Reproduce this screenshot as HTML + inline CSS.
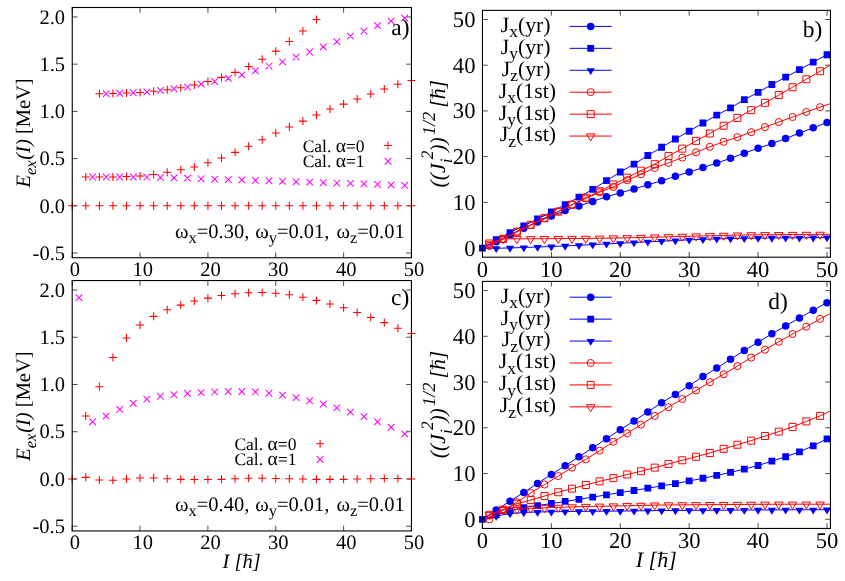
<!DOCTYPE html>
<html><head><meta charset="utf-8"><title>figure</title>
<style>html,body{margin:0;padding:0;background:#fff;width:845px;height:581px;overflow:hidden}body{font-family:"Liberation Serif",serif}svg text{font-family:"Liberation Serif",serif;text-rendering:geometricPrecision}</style></head>
<body>
<svg width="845" height="581" viewBox="0 0 845 581" font-family="'Liberation Serif', serif" fill="#000" style="position:absolute;left:0;top:0;will-change:transform">
<rect width="845" height="581" fill="#fff"/>
<defs>
<clipPath id="cb"><rect x="482.45" y="10.35" width="348" height="246.85"/></clipPath>
<clipPath id="cd"><rect x="482.45" y="281.4" width="348" height="247.05"/></clipPath>
</defs>
<path d="M72.25 257.75v-5.3M72.25 7.5v5.3M140.09 257.75v-5.3M140.09 7.5v5.3M207.93 257.75v-5.3M207.93 7.5v5.3M275.77 257.75v-5.3M275.77 7.5v5.3M343.61 257.75v-5.3M343.61 7.5v5.3M411.45 257.75v-5.3M411.45 7.5v5.3M72.25 253.03h5.3M411.45 253.03h-5.3M72.25 205.81h5.3M411.45 205.81h-5.3M72.25 158.59h5.3M411.45 158.59h-5.3M72.25 111.38h5.3M411.45 111.38h-5.3M72.25 64.16h5.3M411.45 64.16h-5.3M72.25 16.94h5.3M411.45 16.94h-5.3" fill="none" stroke="#000" stroke-width="0.7"/>
<path d="M72.2 530.95v-5.3M72.2 280.55v5.3M140.05 530.95v-5.3M140.05 280.55v5.3M207.9 530.95v-5.3M207.9 280.55v5.3M275.75 530.95v-5.3M275.75 280.55v5.3M343.6 530.95v-5.3M343.6 280.55v5.3M411.45 530.95v-5.3M411.45 280.55v5.3M72.2 526.23h5.3M411.45 526.23h-5.3M72.2 478.98h5.3M411.45 478.98h-5.3M72.2 431.73h5.3M411.45 431.73h-5.3M72.2 384.49h5.3M411.45 384.49h-5.3M72.2 337.24h5.3M411.45 337.24h-5.3M72.2 290h5.3M411.45 290h-5.3" fill="none" stroke="#000" stroke-width="0.7"/>
<path d="M482.45 257.2v-5.3M482.45 10.35v5.3M551.36 257.2v-5.3M551.36 10.35v5.3M620.27 257.2v-5.3M620.27 10.35v5.3M689.18 257.2v-5.3M689.18 10.35v5.3M758.09 257.2v-5.3M758.09 10.35v5.3M827 257.2v-5.3M827 10.35v5.3M482.45 248.06h5.3M830.45 248.06h-5.3M482.45 202.34h5.3M830.45 202.34h-5.3M482.45 156.63h5.3M830.45 156.63h-5.3M482.45 110.92h5.3M830.45 110.92h-5.3M482.45 65.21h5.3M830.45 65.21h-5.3M482.45 19.49h5.3M830.45 19.49h-5.3" fill="none" stroke="#000" stroke-width="0.7"/>
<path d="M482.45 528.45v-5.3M482.45 281.4v5.3M551.36 528.45v-5.3M551.36 281.4v5.3M620.27 528.45v-5.3M620.27 281.4v5.3M689.18 528.45v-5.3M689.18 281.4v5.3M758.09 528.45v-5.3M758.09 281.4v5.3M827 528.45v-5.3M827 281.4v5.3M482.45 519.3h5.3M830.45 519.3h-5.3M482.45 473.55h5.3M830.45 473.55h-5.3M482.45 427.8h5.3M830.45 427.8h-5.3M482.45 382.05h5.3M830.45 382.05h-5.3M482.45 336.3h5.3M830.45 336.3h-5.3M482.45 290.55h5.3M830.45 290.55h-5.3" fill="none" stroke="#000" stroke-width="0.7"/>
<text x="74.85" y="276.45" font-size="20.5" text-anchor="middle" >0</text>
<text x="142.69" y="276.45" font-size="20.5" text-anchor="middle" >10</text>
<text x="210.53" y="276.45" font-size="20.5" text-anchor="middle" >20</text>
<text x="278.37" y="276.45" font-size="20.5" text-anchor="middle" >30</text>
<text x="346.21" y="276.45" font-size="20.5" text-anchor="middle" >40</text>
<text x="414.05" y="276.45" font-size="20.5" text-anchor="middle" >50</text>
<text x="65.05" y="259.73" font-size="20.5" text-anchor="end" >-0.5</text>
<text x="65.05" y="212.51" font-size="20.5" text-anchor="end" >0.0</text>
<text x="65.05" y="165.29" font-size="20.5" text-anchor="end" >0.5</text>
<text x="65.05" y="118.08" font-size="20.5" text-anchor="end" >1.0</text>
<text x="65.05" y="70.86" font-size="20.5" text-anchor="end" >1.5</text>
<text x="65.05" y="23.64" font-size="20.5" text-anchor="end" >2.0</text>
<text x="74.8" y="549.4" font-size="20.5" text-anchor="middle" >0</text>
<text x="142.65" y="549.4" font-size="20.5" text-anchor="middle" >10</text>
<text x="210.5" y="549.4" font-size="20.5" text-anchor="middle" >20</text>
<text x="278.35" y="549.4" font-size="20.5" text-anchor="middle" >30</text>
<text x="346.2" y="549.4" font-size="20.5" text-anchor="middle" >40</text>
<text x="414.05" y="549.4" font-size="20.5" text-anchor="middle" >50</text>
<text x="65" y="532.93" font-size="20.5" text-anchor="end" >-0.5</text>
<text x="65" y="485.68" font-size="20.5" text-anchor="end" >0.0</text>
<text x="65" y="438.43" font-size="20.5" text-anchor="end" >0.5</text>
<text x="65" y="391.19" font-size="20.5" text-anchor="end" >1.0</text>
<text x="65" y="343.94" font-size="20.5" text-anchor="end" >1.5</text>
<text x="65" y="296.7" font-size="20.5" text-anchor="end" >2.0</text>
<text x="482.45" y="277.2" font-size="22.6" text-anchor="middle" >0</text>
<text x="551.36" y="277.2" font-size="22.6" text-anchor="middle" >10</text>
<text x="620.27" y="277.2" font-size="22.6" text-anchor="middle" >20</text>
<text x="689.18" y="277.2" font-size="22.6" text-anchor="middle" >30</text>
<text x="758.09" y="277.2" font-size="22.6" text-anchor="middle" >40</text>
<text x="827" y="277.2" font-size="22.6" text-anchor="middle" >50</text>
<text x="475.45" y="255.61" font-size="22.6" text-anchor="end" >0</text>
<text x="475.45" y="209.89" font-size="22.6" text-anchor="end" >10</text>
<text x="475.45" y="164.18" font-size="22.6" text-anchor="end" >20</text>
<text x="475.45" y="118.47" font-size="22.6" text-anchor="end" >30</text>
<text x="475.45" y="72.76" font-size="22.6" text-anchor="end" >40</text>
<text x="475.45" y="27.04" font-size="22.6" text-anchor="end" >50</text>
<text x="482.45" y="547.85" font-size="22.6" text-anchor="middle" >0</text>
<text x="551.36" y="547.85" font-size="22.6" text-anchor="middle" >10</text>
<text x="620.27" y="547.85" font-size="22.6" text-anchor="middle" >20</text>
<text x="689.18" y="547.85" font-size="22.6" text-anchor="middle" >30</text>
<text x="758.09" y="547.85" font-size="22.6" text-anchor="middle" >40</text>
<text x="827" y="547.85" font-size="22.6" text-anchor="middle" >50</text>
<text x="475.45" y="526.85" font-size="22.6" text-anchor="end" >0</text>
<text x="475.45" y="481.1" font-size="22.6" text-anchor="end" >10</text>
<text x="475.45" y="435.35" font-size="22.6" text-anchor="end" >20</text>
<text x="475.45" y="389.6" font-size="22.6" text-anchor="end" >30</text>
<text x="475.45" y="343.85" font-size="22.6" text-anchor="end" >40</text>
<text x="475.45" y="298.1" font-size="22.6" text-anchor="end" >50</text>
<text transform="translate(30.3 187.6) rotate(-90)" font-size="20.5" text-anchor="start" xml:space="preserve"><tspan font-style="italic">E</tspan><tspan font-style="italic" font-size="16.4" dy="6">ex</tspan><tspan font-style="italic" dy="-6" dx="0.8">(I)</tspan> [MeV]</text>
<text transform="translate(30.3 460.7) rotate(-90)" font-size="20.5" text-anchor="start" xml:space="preserve"><tspan font-style="italic">E</tspan><tspan font-style="italic" font-size="16.4" dy="6">ex</tspan><tspan font-style="italic" dy="-6" dx="0.8">(I)</tspan> [MeV]</text>
<g transform="translate(445.3 187.4) rotate(-90)"><text font-size="21.7" font-style="italic" text-anchor="start" xml:space="preserve">((J<tspan font-size="17.36" dy="6.6">i</tspan><tspan font-size="17.36" dy="-18.6" dx="-0.8">2</tspan><tspan dy="12" dx="-1.2">))</tspan><tspan font-size="18.5" dy="-10.7" dx="2">1/2</tspan><tspan dy="10.7" dx="-1.45"> [h]</tspan></text><path d="M88.73 -13.02H98.28" stroke="#000" stroke-width="0.75" fill="none"/></g>
<g transform="translate(445.3 458.2) rotate(-90)"><text font-size="21.7" font-style="italic" text-anchor="start" xml:space="preserve">((J<tspan font-size="17.36" dy="6.6">i</tspan><tspan font-size="17.36" dy="-18.6" dx="-0.8">2</tspan><tspan dy="12" dx="-1.2">))</tspan><tspan font-size="18.5" dy="-10.7" dx="2">1/2</tspan><tspan dy="10.7" dx="-1.45"> [h]</tspan></text><path d="M88.73 -13.02H98.28" stroke="#000" stroke-width="0.75" fill="none"/></g>
<text x="222.6" y="567.8" font-size="20.5" text-anchor="start" xml:space="preserve" font-style="italic" >I [h]</text>
<path d="M243.14 555.5H252.16" stroke="#000" stroke-width="0.75" fill="none"/>
<text x="635.8" y="566.7" font-size="22" text-anchor="start" xml:space="preserve" font-style="italic" >I [h]</text>
<path d="M657.84 553.5H667.52" stroke="#000" stroke-width="0.75" fill="none"/>
<text x="391.3" y="35.3" font-size="23.5" text-anchor="start" >a)</text>
<text x="391" y="305.3" font-size="23.5" text-anchor="start" >c)</text>
<text x="802.8" y="37" font-size="23.5" text-anchor="start" >b)</text>
<text x="768.3" y="308.5" font-size="23.5" text-anchor="start" >d)</text>
<text x="175" y="237.7" font-size="20.5" xml:space="preserve">&#969;<tspan font-size="16.4" dy="5.7">x</tspan><tspan dy="-5.7">=0.30,</tspan></text>
<text x="255.2" y="237.7" font-size="20.5" xml:space="preserve">&#969;<tspan font-size="16.4" dy="5.7">y</tspan><tspan dy="-5.7">=0.01,</tspan></text>
<text x="336.5" y="237.7" font-size="20.5" xml:space="preserve">&#969;<tspan font-size="16.4" dy="5.7">z</tspan><tspan dy="-5.7">=0.01</tspan></text>
<text x="175" y="510.7" font-size="20.5" xml:space="preserve">&#969;<tspan font-size="16.4" dy="5.7">x</tspan><tspan dy="-5.7">=0.40,</tspan></text>
<text x="255.2" y="510.7" font-size="20.5" xml:space="preserve">&#969;<tspan font-size="16.4" dy="5.7">y</tspan><tspan dy="-5.7">=0.01,</tspan></text>
<text x="336.5" y="510.7" font-size="20.5" xml:space="preserve">&#969;<tspan font-size="16.4" dy="5.7">z</tspan><tspan dy="-5.7">=0.01</tspan></text>
<text x="364.6" y="151.9" font-size="17.5" text-anchor="end" xml:space="preserve" >Cal. <tspan font-size="19.6">&#945;</tspan>=0</text>
<text x="364.6" y="167.2" font-size="17.5" text-anchor="end" xml:space="preserve" >Cal. <tspan font-size="19.6">&#945;</tspan>=1</text>
<path d="M384.07 145.54h8M388.07 141.54v8" fill="none" stroke="#ff0000" stroke-width="1.05"/>
<path d="M384.77 157.94l6.6 6.6M384.77 164.54l6.6 -6.6" fill="none" stroke="#ff00ff" stroke-width="1.05"/>
<text x="296.4" y="449.9" font-size="17.5" text-anchor="end" xml:space="preserve" >Cal. <tspan font-size="19.6">&#945;</tspan>=0</text>
<text x="296.4" y="465.2" font-size="17.5" text-anchor="end" xml:space="preserve" >Cal. <tspan font-size="19.6">&#945;</tspan>=1</text>
<path d="M316.1 443.8h8M320.1 439.8v8" fill="none" stroke="#ff0000" stroke-width="1.05"/>
<path d="M316.8 456.2l6.6 6.6M316.8 462.8l6.6 -6.6" fill="none" stroke="#ff00ff" stroke-width="1.05"/>
<text x="550.6" y="31.8" font-size="21.8" text-anchor="end" xml:space="preserve">J<tspan font-size="17.44" dy="5.6">x</tspan><tspan dy="-5.6">(yr)</tspan></text>
<path d="M569.5 26.4H611.7" stroke="#0000ff" stroke-width="1" fill="none"/>
<path d="M586.95 26.4a3.75 3.75 0 1 0 7.5 0a3.75 3.75 0 1 0 -7.5 0z" fill="#0000ff"/>
<text x="550.6" y="53.73" font-size="21.8" text-anchor="end" xml:space="preserve">J<tspan font-size="17.44" dy="5.6">y</tspan><tspan dy="-5.6">(yr)</tspan></text>
<path d="M569.5 48.33H611.7" stroke="#0000ff" stroke-width="1" fill="none"/>
<path d="M587.3 44.93h6.8v6.8h-6.8z" fill="#0000ff"/>
<text x="550.6" y="75.66" font-size="21.8" text-anchor="end" xml:space="preserve">J<tspan font-size="17.44" dy="5.6">z</tspan><tspan dy="-5.6">(yr)</tspan></text>
<path d="M569.5 70.26H611.7" stroke="#0000ff" stroke-width="1" fill="none"/>
<path d="M590.7 74.96L586.5 68.16h8.4z" fill="#0000ff"/>
<text x="556" y="97.59" font-size="21.8" text-anchor="end" xml:space="preserve">J<tspan font-size="17.44" dy="5.6">x</tspan><tspan dy="-5.6">(1st)</tspan></text>
<path d="M569.5 92.19H611.7" stroke="#ff0000" stroke-width="1" fill="none"/>
<path d="M587.15 92.19a3.55 3.55 0 1 0 7.1 0a3.55 3.55 0 1 0 -7.1 0z" fill="none" stroke="#ff0000" stroke-width="1"/>
<text x="556" y="119.52" font-size="21.8" text-anchor="end" xml:space="preserve">J<tspan font-size="17.44" dy="5.6">y</tspan><tspan dy="-5.6">(1st)</tspan></text>
<path d="M569.5 114.12H611.7" stroke="#ff0000" stroke-width="1" fill="none"/>
<path d="M587.2 110.62h7v7h-7z" fill="none" stroke="#ff0000" stroke-width="1"/>
<text x="556" y="141.45" font-size="21.8" text-anchor="end" xml:space="preserve">J<tspan font-size="17.44" dy="5.6">z</tspan><tspan dy="-5.6">(1st)</tspan></text>
<path d="M569.5 136.05H611.7" stroke="#ff0000" stroke-width="1" fill="none"/>
<path d="M590.7 140.87L586.4 133.9h8.6z" fill="none" stroke="#ff0000" stroke-width="1"/>
<text x="550.6" y="302.6" font-size="21.8" text-anchor="end" xml:space="preserve">J<tspan font-size="17.44" dy="5.6">x</tspan><tspan dy="-5.6">(yr)</tspan></text>
<path d="M569.5 297.2H611.7" stroke="#0000ff" stroke-width="1" fill="none"/>
<path d="M586.95 297.2a3.75 3.75 0 1 0 7.5 0a3.75 3.75 0 1 0 -7.5 0z" fill="#0000ff"/>
<text x="550.6" y="324.53" font-size="21.8" text-anchor="end" xml:space="preserve">J<tspan font-size="17.44" dy="5.6">y</tspan><tspan dy="-5.6">(yr)</tspan></text>
<path d="M569.5 319.13H611.7" stroke="#0000ff" stroke-width="1" fill="none"/>
<path d="M587.3 315.73h6.8v6.8h-6.8z" fill="#0000ff"/>
<text x="550.6" y="346.46" font-size="21.8" text-anchor="end" xml:space="preserve">J<tspan font-size="17.44" dy="5.6">z</tspan><tspan dy="-5.6">(yr)</tspan></text>
<path d="M569.5 341.06H611.7" stroke="#0000ff" stroke-width="1" fill="none"/>
<path d="M590.7 345.76L586.5 338.96h8.4z" fill="#0000ff"/>
<text x="556" y="368.39" font-size="21.8" text-anchor="end" xml:space="preserve">J<tspan font-size="17.44" dy="5.6">x</tspan><tspan dy="-5.6">(1st)</tspan></text>
<path d="M569.5 362.99H611.7" stroke="#ff0000" stroke-width="1" fill="none"/>
<path d="M587.15 362.99a3.55 3.55 0 1 0 7.1 0a3.55 3.55 0 1 0 -7.1 0z" fill="none" stroke="#ff0000" stroke-width="1"/>
<text x="556" y="390.32" font-size="21.8" text-anchor="end" xml:space="preserve">J<tspan font-size="17.44" dy="5.6">y</tspan><tspan dy="-5.6">(1st)</tspan></text>
<path d="M569.5 384.92H611.7" stroke="#ff0000" stroke-width="1" fill="none"/>
<path d="M587.2 381.42h7v7h-7z" fill="none" stroke="#ff0000" stroke-width="1"/>
<text x="556" y="412.25" font-size="21.8" text-anchor="end" xml:space="preserve">J<tspan font-size="17.44" dy="5.6">z</tspan><tspan dy="-5.6">(1st)</tspan></text>
<path d="M569.5 406.85H611.7" stroke="#ff0000" stroke-width="1" fill="none"/>
<path d="M590.7 411.67L586.4 404.7h8.6z" fill="none" stroke="#ff0000" stroke-width="1"/>
<path d="M68.25 205.81h8M72.25 201.81v8M81.82 205.81h8M85.82 201.81v8M95.39 205.81h8M99.39 201.81v8M108.95 205.81h8M112.95 201.81v8M122.52 205.81h8M126.52 201.81v8M136.09 205.81h8M140.09 201.81v8M149.66 205.81h8M153.66 201.81v8M163.23 205.81h8M167.23 201.81v8M176.79 205.81h8M180.79 201.81v8M190.36 205.81h8M194.36 201.81v8M203.93 205.81h8M207.93 201.81v8M217.5 205.81h8M221.5 201.81v8M231.07 205.81h8M235.07 201.81v8M244.63 205.81h8M248.63 201.81v8M258.2 205.81h8M262.2 201.81v8M271.77 205.81h8M275.77 201.81v8M285.34 205.81h8M289.34 201.81v8M298.91 205.81h8M302.91 201.81v8M312.47 205.81h8M316.47 201.81v8M326.04 205.81h8M330.04 201.81v8M339.61 205.81h8M343.61 201.81v8M353.18 205.81h8M357.18 201.81v8M366.75 205.81h8M370.75 201.81v8M380.31 205.81h8M384.31 201.81v8M393.88 205.81h8M397.88 201.81v8M407.45 205.81h8M411.45 201.81v8" fill="none" stroke="#ff0000" stroke-width="1.05"/>
<path d="M81.82 177.01h8M85.82 173.01v8M95.39 177.01h8M99.39 173.01v8M108.95 177.01h8M112.95 173.01v8M122.52 176.54h8M126.52 172.54v8M136.09 176.06h8M140.09 172.06v8M149.66 174.55h8M153.66 170.55v8M163.23 172.29h8M167.23 168.29v8M176.79 169.83h8M180.79 165.83v8M190.36 166.9h8M194.36 162.9v8M203.93 162.84h8M207.93 158.84v8M217.5 157.93h8M221.5 153.93v8M231.07 152.36h8M235.07 148.36v8M244.63 146.32h8M248.63 142.32v8M258.2 139.71h8M262.2 135.71v8M271.77 133h8M275.77 129v8M285.34 127.05h8M289.34 123.05v8M298.91 121.1h8M302.91 117.1v8M312.47 115.06h8M316.47 111.06v8M326.04 109.02h8M330.04 105.02v8M339.61 104.11h8M343.61 100.11v8M353.18 99.01h8M357.18 95.01v8M366.75 94h8M370.75 90v8M380.31 89.09h8M384.31 85.09v8M393.88 84.18h8M397.88 80.18v8M407.45 80.59h8M411.45 76.59v8" fill="none" stroke="#ff0000" stroke-width="1.05"/>
<path d="M95.39 93.72h8M99.39 89.72v8M108.95 93.43h8M112.95 89.43v8M122.52 92.96h8M126.52 88.96v8M136.09 92.4h8M140.09 88.4v8M149.66 91.17h8M153.66 87.17v8M163.23 89.66h8M167.23 85.66v8M176.79 87.67h8M180.79 83.67v8M190.36 84.94h8M194.36 80.94v8M203.93 81.54h8M207.93 77.54v8M217.5 77.38h8M221.5 73.38v8M231.07 72.38h8M235.07 68.38v8M244.63 66.43h8M248.63 62.43v8M258.2 59.16h8M262.2 55.16v8M271.77 51.13h8M275.77 47.13v8M285.34 41.5h8M289.34 37.5v8M298.91 31.01h8M302.91 27.01v8M312.47 19.59h8M316.47 15.59v8" fill="none" stroke="#ff0000" stroke-width="1.05"/>
<path d="M89.3 173.71l6.6 6.6M89.3 180.31l6.6 -6.6M102.87 173.71l6.6 6.6M102.87 180.31l6.6 -6.6M116.44 173.71l6.6 6.6M116.44 180.31l6.6 -6.6M130.01 173.71l6.6 6.6M130.01 180.31l6.6 -6.6M143.57 173.9l6.6 6.6M143.57 180.5l6.6 -6.6M157.14 174.18l6.6 6.6M157.14 180.78l6.6 -6.6M170.71 174.56l6.6 6.6M170.71 181.16l6.6 -6.6M184.28 174.84l6.6 6.6M184.28 181.44l6.6 -6.6M197.85 175.5l6.6 6.6M197.85 182.1l6.6 -6.6M211.41 175.98l6.6 6.6M211.41 182.58l6.6 -6.6M224.98 176.35l6.6 6.6M224.98 182.95l6.6 -6.6M238.55 176.64l6.6 6.6M238.55 183.24l6.6 -6.6M252.12 177.11l6.6 6.6M252.12 183.71l6.6 -6.6M265.69 177.49l6.6 6.6M265.69 184.09l6.6 -6.6M279.25 177.96l6.6 6.6M279.25 184.56l6.6 -6.6M292.82 178.43l6.6 6.6M292.82 185.03l6.6 -6.6M306.39 178.81l6.6 6.6M306.39 185.41l6.6 -6.6M319.96 179.28l6.6 6.6M319.96 185.88l6.6 -6.6M333.53 179.75l6.6 6.6M333.53 186.35l6.6 -6.6M347.09 180.13l6.6 6.6M347.09 186.73l6.6 -6.6M360.66 180.6l6.6 6.6M360.66 187.2l6.6 -6.6M374.23 181.07l6.6 6.6M374.23 187.67l6.6 -6.6M387.8 181.55l6.6 6.6M387.8 188.15l6.6 -6.6M401.37 182.02l6.6 6.6M401.37 188.62l6.6 -6.6" fill="none" stroke="#ff00ff" stroke-width="1.05"/>
<path d="M102.87 90.42l6.6 6.6M102.87 97.02l6.6 -6.6M116.44 89.95l6.6 6.6M116.44 96.55l6.6 -6.6M130.01 89.47l6.6 6.6M130.01 96.07l6.6 -6.6M143.57 88.62l6.6 6.6M143.57 95.22l6.6 -6.6M157.14 87.02l6.6 6.6M157.14 93.62l6.6 -6.6M170.71 85.41l6.6 6.6M170.71 92.01l6.6 -6.6M184.28 83.9l6.6 6.6M184.28 90.5l6.6 -6.6M197.85 80.79l6.6 6.6M197.85 87.39l6.6 -6.6M211.41 78.24l6.6 6.6M211.41 84.84l6.6 -6.6M224.98 74.93l6.6 6.6M224.98 81.53l6.6 -6.6M238.55 71.53l6.6 6.6M238.55 78.13l6.6 -6.6M252.12 67.47l6.6 6.6M252.12 74.07l6.6 -6.6M265.69 62.75l6.6 6.6M265.69 69.35l6.6 -6.6M279.25 58.5l6.6 6.6M279.25 65.1l6.6 -6.6M292.82 53.87l6.6 6.6M292.82 60.47l6.6 -6.6M306.39 48.68l6.6 6.6M306.39 55.28l6.6 -6.6M319.96 43.58l6.6 6.6M319.96 50.18l6.6 -6.6M333.53 38.39l6.6 6.6M333.53 44.99l6.6 -6.6M347.09 32.81l6.6 6.6M347.09 39.41l6.6 -6.6M360.66 27.71l6.6 6.6M360.66 34.31l6.6 -6.6M374.23 22.33l6.6 6.6M374.23 28.93l6.6 -6.6M387.8 17.89l6.6 6.6M387.8 24.49l6.6 -6.6M401.37 14.78l6.6 6.6M401.37 21.38l6.6 -6.6" fill="none" stroke="#ff00ff" stroke-width="1.05"/>
<path d="M68.2 478.98h8M72.2 474.98v8M81.77 477.37h8M85.77 473.37v8M95.34 480.02h8M99.34 476.02v8M108.91 480.3h8M112.91 476.3v8M122.48 479.07h8M126.48 475.07v8M136.05 478.04h8M140.05 474.04v8M149.62 478.04h8M153.62 474.04v8M163.19 478.7h8M167.19 474.7v8M176.76 479.36h8M180.76 475.36v8M190.33 479.55h8M194.33 475.55v8M203.9 479.55h8M207.9 475.55v8M217.47 479.36h8M221.47 475.36v8M231.04 478.7h8M235.04 474.7v8M244.61 478.22h8M248.61 474.22v8M258.18 478.22h8M262.18 474.22v8M271.75 478.51h8M275.75 474.51v8M285.32 478.7h8M289.32 474.7v8M298.89 478.98h8M302.89 474.98v8M312.46 479.36h8M316.46 475.36v8M326.03 479.36h8M330.03 475.36v8M339.6 479.36h8M343.6 475.36v8M353.17 478.98h8M357.17 474.98v8M366.74 478.7h8M370.74 474.7v8M380.31 478.51h8M384.31 474.51v8M393.88 478.51h8M397.88 474.51v8M407.45 478.98h8M411.45 474.98v8" fill="none" stroke="#ff0000" stroke-width="1.05"/>
<path d="M81.77 415.95h8M85.77 411.95v8M95.34 386.76h8M99.34 382.76v8M108.91 357.56h8M112.91 353.56v8M122.48 338h8M126.48 334v8M136.05 325.06h8M140.05 321.06v8M149.62 316.36h8M153.62 312.36v8M163.19 309.84h8M167.19 305.84v8M176.76 305.12h8M180.76 301.12v8M190.33 301.05h8M194.33 297.05v8M203.9 298.13h8M207.9 294.13v8M217.47 295.48h8M221.47 291.48v8M231.04 293.68h8M235.04 289.68v8M244.61 292.74h8M248.61 288.74v8M258.18 292.55h8M262.18 288.55v8M271.75 293.21h8M275.75 289.21v8M285.32 294.82h8M289.32 290.82v8M298.89 297.27h8M302.89 293.27v8M312.46 300.39h8M316.46 296.39v8M326.03 303.98h8M330.03 299.98v8M339.6 307.76h8M343.6 303.76v8M353.17 312.49h8M357.17 308.49v8M366.74 317.4h8M370.74 313.4v8M380.31 322.6h8M384.31 318.6v8M393.88 328.17h8M397.88 324.17v8M407.45 333.56h8M411.45 329.56v8" fill="none" stroke="#ff0000" stroke-width="1.05"/>
<path d="M75.69 294.45l6.6 6.6M75.69 301.05l6.6 -6.6M89.26 418.42l6.6 6.6M89.26 425.02l6.6 -6.6M102.83 412.84l6.6 6.6M102.83 419.44l6.6 -6.6M116.4 406.14l6.6 6.6M116.4 412.74l6.6 -6.6M129.96 400.09l6.6 6.6M129.96 406.69l6.6 -6.6M143.53 395.84l6.6 6.6M143.53 402.44l6.6 -6.6M157.1 392.91l6.6 6.6M157.1 399.51l6.6 -6.6M170.67 391.39l6.6 6.6M170.67 397.99l6.6 -6.6M184.25 390.17l6.6 6.6M184.25 396.77l6.6 -6.6M197.81 389.32l6.6 6.6M197.81 395.92l6.6 -6.6M211.38 388.65l6.6 6.6M211.38 395.25l6.6 -6.6M224.95 388.18l6.6 6.6M224.95 394.78l6.6 -6.6M238.52 388.18l6.6 6.6M238.52 394.78l6.6 -6.6M252.1 388.65l6.6 6.6M252.1 395.25l6.6 -6.6M265.66 389.98l6.6 6.6M265.66 396.58l6.6 -6.6M279.24 391.77l6.6 6.6M279.24 398.37l6.6 -6.6M292.81 394.32l6.6 6.6M292.81 400.92l6.6 -6.6M306.38 397.44l6.6 6.6M306.38 404.04l6.6 -6.6M319.94 400.84l6.6 6.6M319.94 407.44l6.6 -6.6M333.51 404.62l6.6 6.6M333.51 411.22l6.6 -6.6M347.08 408.78l6.6 6.6M347.08 415.38l6.6 -6.6M360.65 413.32l6.6 6.6M360.65 419.92l6.6 -6.6M374.22 418.42l6.6 6.6M374.22 425.02l6.6 -6.6M387.79 423.99l6.6 6.6M387.79 430.59l6.6 -6.6M401.36 430.51l6.6 6.6M401.36 437.11l6.6 -6.6" fill="none" stroke="#ff00ff" stroke-width="1.05"/>
<path d="M482.45 248.06L496.23 241.63L510.01 234.89L523.8 228.16L537.58 221.88L551.36 215.88L565.14 210.62L578.93 206.08L592.71 201.41L606.49 196.74L620.27 192.89L634.05 188.95L647.84 184.83L661.62 180.71L675.4 176.35L689.18 172L702.96 167.61L716.75 163.12L730.53 158.26L744.31 153.22L758.09 148.18L771.88 143.6L785.66 138.57L799.44 133.07L813.22 127.8L827 122.53" fill="none" stroke="#0000ff" stroke-width="1" clip-path="url(#cb)"/>
<path d="M492.48 241.63a3.75 3.75 0 1 0 7.5 0a3.75 3.75 0 1 0 -7.5 0zM506.26 234.89a3.75 3.75 0 1 0 7.5 0a3.75 3.75 0 1 0 -7.5 0zM520.05 228.16a3.75 3.75 0 1 0 7.5 0a3.75 3.75 0 1 0 -7.5 0zM533.83 221.88a3.75 3.75 0 1 0 7.5 0a3.75 3.75 0 1 0 -7.5 0zM547.61 215.88a3.75 3.75 0 1 0 7.5 0a3.75 3.75 0 1 0 -7.5 0zM561.39 210.62a3.75 3.75 0 1 0 7.5 0a3.75 3.75 0 1 0 -7.5 0zM575.18 206.08a3.75 3.75 0 1 0 7.5 0a3.75 3.75 0 1 0 -7.5 0zM588.96 201.41a3.75 3.75 0 1 0 7.5 0a3.75 3.75 0 1 0 -7.5 0zM602.74 196.74a3.75 3.75 0 1 0 7.5 0a3.75 3.75 0 1 0 -7.5 0zM616.52 192.89a3.75 3.75 0 1 0 7.5 0a3.75 3.75 0 1 0 -7.5 0zM630.3 188.95a3.75 3.75 0 1 0 7.5 0a3.75 3.75 0 1 0 -7.5 0zM644.09 184.83a3.75 3.75 0 1 0 7.5 0a3.75 3.75 0 1 0 -7.5 0zM657.87 180.71a3.75 3.75 0 1 0 7.5 0a3.75 3.75 0 1 0 -7.5 0zM671.65 176.35a3.75 3.75 0 1 0 7.5 0a3.75 3.75 0 1 0 -7.5 0zM685.43 172a3.75 3.75 0 1 0 7.5 0a3.75 3.75 0 1 0 -7.5 0zM699.21 167.61a3.75 3.75 0 1 0 7.5 0a3.75 3.75 0 1 0 -7.5 0zM713 163.12a3.75 3.75 0 1 0 7.5 0a3.75 3.75 0 1 0 -7.5 0zM726.78 158.26a3.75 3.75 0 1 0 7.5 0a3.75 3.75 0 1 0 -7.5 0zM740.56 153.22a3.75 3.75 0 1 0 7.5 0a3.75 3.75 0 1 0 -7.5 0zM754.34 148.18a3.75 3.75 0 1 0 7.5 0a3.75 3.75 0 1 0 -7.5 0zM768.13 143.6a3.75 3.75 0 1 0 7.5 0a3.75 3.75 0 1 0 -7.5 0zM781.91 138.57a3.75 3.75 0 1 0 7.5 0a3.75 3.75 0 1 0 -7.5 0zM795.69 133.07a3.75 3.75 0 1 0 7.5 0a3.75 3.75 0 1 0 -7.5 0zM809.47 127.8a3.75 3.75 0 1 0 7.5 0a3.75 3.75 0 1 0 -7.5 0zM823.25 122.53a3.75 3.75 0 1 0 7.5 0a3.75 3.75 0 1 0 -7.5 0z" fill="#0000ff" stroke="none"/>
<path d="M482.45 248.06L496.23 239.66L510.01 232.69L523.8 225.82L537.58 219L551.36 211.99L565.14 204.66L578.93 197.2L592.71 189.41L606.49 180.71L620.27 172L634.05 164.22L647.84 155.51L661.62 147.27L675.4 139.02L689.18 131.24L702.96 122.99L716.75 115.21L730.53 107.88L744.31 99.63L758.09 92.3L771.88 84.52L785.66 77.19L799.44 69.63L813.22 62.07L827 54.74" fill="none" stroke="#0000ff" stroke-width="1" clip-path="url(#cb)"/>
<path d="M479.05 244.66h6.8v6.8h-6.8zM492.83 236.26h6.8v6.8h-6.8zM506.61 229.29h6.8v6.8h-6.8zM520.4 222.42h6.8v6.8h-6.8zM534.18 215.6h6.8v6.8h-6.8zM547.96 208.59h6.8v6.8h-6.8zM561.74 201.26h6.8v6.8h-6.8zM575.53 193.8h6.8v6.8h-6.8zM589.31 186.01h6.8v6.8h-6.8zM603.09 177.31h6.8v6.8h-6.8zM616.87 168.6h6.8v6.8h-6.8zM630.65 160.82h6.8v6.8h-6.8zM644.44 152.11h6.8v6.8h-6.8zM658.22 143.87h6.8v6.8h-6.8zM672 135.62h6.8v6.8h-6.8zM685.78 127.84h6.8v6.8h-6.8zM699.56 119.59h6.8v6.8h-6.8zM713.35 111.81h6.8v6.8h-6.8zM727.13 104.48h6.8v6.8h-6.8zM740.91 96.23h6.8v6.8h-6.8zM754.69 88.9h6.8v6.8h-6.8zM768.48 81.12h6.8v6.8h-6.8zM782.26 73.79h6.8v6.8h-6.8zM796.04 66.23h6.8v6.8h-6.8zM809.82 58.67h6.8v6.8h-6.8zM823.6 51.34h6.8v6.8h-6.8z" fill="#0000ff" stroke="none"/>
<path d="M482.45 248.06L496.23 248.27L510.01 247.95L523.8 247.49L537.58 247.03L551.36 246.53L565.14 245.93L578.93 245.29L592.71 244.6L606.49 243.92L620.27 243.23L634.05 242.54L647.84 241.85L661.62 241.17L675.4 240.48L689.18 239.84L702.96 239.34L716.75 238.88L730.53 238.51L744.31 238.24L758.09 238.05L771.88 237.96L785.66 237.87L799.44 237.78L813.22 237.69L827 237.59" fill="none" stroke="#0000ff" stroke-width="1" clip-path="url(#cb)"/>
<path d="M496.23 252.97L492.03 246.17h8.4zM510.01 252.65L505.81 245.85h8.4zM523.8 252.19L519.6 245.39h8.4zM537.58 251.73L533.38 244.93h8.4zM551.36 251.23L547.16 244.43h8.4zM565.14 250.64L560.94 243.83h8.4zM578.93 249.99L574.73 243.19h8.4zM592.71 249.31L588.51 242.5h8.4zM606.49 248.62L602.29 241.82h8.4zM620.27 247.93L616.07 241.13h8.4zM634.05 247.25L629.85 240.44h8.4zM647.84 246.56L643.64 239.75h8.4zM661.62 245.87L657.42 239.07h8.4zM675.4 245.18L671.2 238.38h8.4zM689.18 244.54L684.98 237.74h8.4zM702.96 244.04L698.76 237.24h8.4zM716.75 243.58L712.55 236.78h8.4zM730.53 243.21L726.33 236.41h8.4zM744.31 242.94L740.11 236.14h8.4zM758.09 242.76L753.89 235.95h8.4zM771.88 242.67L767.68 235.86h8.4zM785.66 242.57L781.46 235.77h8.4zM799.44 242.48L795.24 235.68h8.4zM813.22 242.39L809.02 235.59h8.4zM827 242.3L822.8 235.49h8.4z" fill="#0000ff" stroke="none"/>
<path d="M489.34 246.07L503.12 238.97L516.91 231.78L530.69 225L544.47 218.08L558.25 211.53L572.03 204.75L585.82 198.57L599.6 192.16L613.38 186.98L627.16 180.25L640.95 174.29L654.73 167.88L668.51 162.84L682.29 157.57L696.07 152.31L709.86 146.81L723.64 141.77L737.42 137.19L751.2 132.15L764.98 127.11L778.77 122.08L792.55 117.04L806.33 112L820.11 107.19L833.9 102.38" fill="none" stroke="#ff0000" stroke-width="1" clip-path="url(#cb)"/>
<path d="M485.79 246.07a3.55 3.55 0 1 0 7.1 0a3.55 3.55 0 1 0 -7.1 0zM499.57 238.97a3.55 3.55 0 1 0 7.1 0a3.55 3.55 0 1 0 -7.1 0zM513.36 231.78a3.55 3.55 0 1 0 7.1 0a3.55 3.55 0 1 0 -7.1 0zM527.14 225a3.55 3.55 0 1 0 7.1 0a3.55 3.55 0 1 0 -7.1 0zM540.92 218.08a3.55 3.55 0 1 0 7.1 0a3.55 3.55 0 1 0 -7.1 0zM554.7 211.53a3.55 3.55 0 1 0 7.1 0a3.55 3.55 0 1 0 -7.1 0zM568.48 204.75a3.55 3.55 0 1 0 7.1 0a3.55 3.55 0 1 0 -7.1 0zM582.27 198.57a3.55 3.55 0 1 0 7.1 0a3.55 3.55 0 1 0 -7.1 0zM596.05 192.16a3.55 3.55 0 1 0 7.1 0a3.55 3.55 0 1 0 -7.1 0zM609.83 186.98a3.55 3.55 0 1 0 7.1 0a3.55 3.55 0 1 0 -7.1 0zM623.61 180.25a3.55 3.55 0 1 0 7.1 0a3.55 3.55 0 1 0 -7.1 0zM637.4 174.29a3.55 3.55 0 1 0 7.1 0a3.55 3.55 0 1 0 -7.1 0zM651.18 167.88a3.55 3.55 0 1 0 7.1 0a3.55 3.55 0 1 0 -7.1 0zM664.96 162.84a3.55 3.55 0 1 0 7.1 0a3.55 3.55 0 1 0 -7.1 0zM678.74 157.57a3.55 3.55 0 1 0 7.1 0a3.55 3.55 0 1 0 -7.1 0zM692.52 152.31a3.55 3.55 0 1 0 7.1 0a3.55 3.55 0 1 0 -7.1 0zM706.31 146.81a3.55 3.55 0 1 0 7.1 0a3.55 3.55 0 1 0 -7.1 0zM720.09 141.77a3.55 3.55 0 1 0 7.1 0a3.55 3.55 0 1 0 -7.1 0zM733.87 137.19a3.55 3.55 0 1 0 7.1 0a3.55 3.55 0 1 0 -7.1 0zM747.65 132.15a3.55 3.55 0 1 0 7.1 0a3.55 3.55 0 1 0 -7.1 0zM761.43 127.11a3.55 3.55 0 1 0 7.1 0a3.55 3.55 0 1 0 -7.1 0zM775.22 122.08a3.55 3.55 0 1 0 7.1 0a3.55 3.55 0 1 0 -7.1 0zM789 117.04a3.55 3.55 0 1 0 7.1 0a3.55 3.55 0 1 0 -7.1 0zM802.78 112a3.55 3.55 0 1 0 7.1 0a3.55 3.55 0 1 0 -7.1 0zM816.56 107.19a3.55 3.55 0 1 0 7.1 0a3.55 3.55 0 1 0 -7.1 0z" fill="none" stroke="#ff0000" stroke-width="1"/>
<path d="M489.34 243.46L503.12 238.88L516.91 231.73L530.69 224.86L544.47 218.13L558.25 211.58L572.03 204.71L585.82 197.65L599.6 191.24L613.38 184.37L627.16 177.68L640.95 170.63L654.73 164.22L668.51 155.97L682.29 148.64L696.07 140.86L709.86 133.53L723.64 125.74L737.42 117.95L751.2 110.17L764.98 102.84L778.77 95.05L792.55 87.26L806.33 79.25L820.11 71.23L833.9 62.99" fill="none" stroke="#ff0000" stroke-width="1" clip-path="url(#cb)"/>
<path d="M485.84 239.96h7v7h-7zM499.62 235.38h7v7h-7zM513.41 228.23h7v7h-7zM527.19 221.36h7v7h-7zM540.97 214.63h7v7h-7zM554.75 208.08h7v7h-7zM568.53 201.21h7v7h-7zM582.32 194.15h7v7h-7zM596.1 187.74h7v7h-7zM609.88 180.87h7v7h-7zM623.66 174.18h7v7h-7zM637.45 167.13h7v7h-7zM651.23 160.72h7v7h-7zM665.01 152.47h7v7h-7zM678.79 145.14h7v7h-7zM692.57 137.36h7v7h-7zM706.36 130.03h7v7h-7zM720.14 122.24h7v7h-7zM733.92 114.45h7v7h-7zM747.7 106.67h7v7h-7zM761.48 99.34h7v7h-7zM775.27 91.55h7v7h-7zM789.05 83.76h7v7h-7zM802.83 75.75h7v7h-7zM816.61 67.73h7v7h-7z" fill="none" stroke="#ff0000" stroke-width="1"/>
<path d="M489.34 243.92L503.12 238.88L516.91 238.79L530.69 238.79L544.47 238.69L558.25 238.6L572.03 238.51L585.82 238.42L599.6 238.24L613.38 238.05L627.16 237.82L640.95 237.5L654.73 237.18L668.51 236.82L682.29 236.45L696.07 236.13L709.86 235.76L723.64 235.44L737.42 235.12L751.2 234.89L764.98 234.75L778.77 234.62L792.55 234.53L806.33 234.43L820.11 234.39L833.9 234.34" fill="none" stroke="#ff0000" stroke-width="1" clip-path="url(#cb)"/>
<path d="M489.34 248.73L485.04 241.77h8.6zM503.12 243.69L498.82 236.73h8.6zM516.91 243.6L512.61 236.64h8.6zM530.69 243.6L526.39 236.64h8.6zM544.47 243.51L540.17 236.54h8.6zM558.25 243.42L553.95 236.45h8.6zM572.03 243.33L567.73 236.36h8.6zM585.82 243.24L581.52 236.27h8.6zM599.6 243.05L595.3 236.09h8.6zM613.38 242.87L609.08 235.9h8.6zM627.16 242.64L622.86 235.67h8.6zM640.95 242.32L636.65 235.35h8.6zM654.73 242L650.43 235.03h8.6zM668.51 241.63L664.21 234.67h8.6zM682.29 241.27L677.99 234.3h8.6zM696.07 240.95L691.77 233.98h8.6zM709.86 240.58L705.56 233.61h8.6zM723.64 240.26L719.34 233.29h8.6zM737.42 239.94L733.12 232.97h8.6zM751.2 239.71L746.9 232.74h8.6zM764.98 239.57L760.68 232.6h8.6zM778.77 239.43L774.47 232.47h8.6zM792.55 239.34L788.25 232.38h8.6zM806.33 239.25L802.03 232.28h8.6zM820.11 239.2L815.81 232.24h8.6z" fill="none" stroke="#ff0000" stroke-width="1"/>
<path d="M482.45 519.3L496.23 510.01L510.01 501.23L523.8 492.4L537.58 483.39L551.36 474.47L565.14 465.77L578.93 456.76L592.71 447.79L606.49 438.78L620.27 429.63L634.05 420.94L647.84 411.92L661.62 402.82L675.4 394.4L689.18 385.71L702.96 376.56L716.75 368.1L730.53 359.17L744.31 350.48L758.09 342.25L771.88 333.78L785.66 325.91L799.44 318L813.22 310.22L827 302.63" fill="none" stroke="#0000ff" stroke-width="1" clip-path="url(#cd)"/>
<path d="M492.48 510.01a3.75 3.75 0 1 0 7.5 0a3.75 3.75 0 1 0 -7.5 0zM506.26 501.23a3.75 3.75 0 1 0 7.5 0a3.75 3.75 0 1 0 -7.5 0zM520.05 492.4a3.75 3.75 0 1 0 7.5 0a3.75 3.75 0 1 0 -7.5 0zM533.83 483.39a3.75 3.75 0 1 0 7.5 0a3.75 3.75 0 1 0 -7.5 0zM547.61 474.47a3.75 3.75 0 1 0 7.5 0a3.75 3.75 0 1 0 -7.5 0zM561.39 465.77a3.75 3.75 0 1 0 7.5 0a3.75 3.75 0 1 0 -7.5 0zM575.18 456.76a3.75 3.75 0 1 0 7.5 0a3.75 3.75 0 1 0 -7.5 0zM588.96 447.79a3.75 3.75 0 1 0 7.5 0a3.75 3.75 0 1 0 -7.5 0zM602.74 438.78a3.75 3.75 0 1 0 7.5 0a3.75 3.75 0 1 0 -7.5 0zM616.52 429.63a3.75 3.75 0 1 0 7.5 0a3.75 3.75 0 1 0 -7.5 0zM630.3 420.94a3.75 3.75 0 1 0 7.5 0a3.75 3.75 0 1 0 -7.5 0zM644.09 411.92a3.75 3.75 0 1 0 7.5 0a3.75 3.75 0 1 0 -7.5 0zM657.87 402.82a3.75 3.75 0 1 0 7.5 0a3.75 3.75 0 1 0 -7.5 0zM671.65 394.4a3.75 3.75 0 1 0 7.5 0a3.75 3.75 0 1 0 -7.5 0zM685.43 385.71a3.75 3.75 0 1 0 7.5 0a3.75 3.75 0 1 0 -7.5 0zM699.21 376.56a3.75 3.75 0 1 0 7.5 0a3.75 3.75 0 1 0 -7.5 0zM713 368.1a3.75 3.75 0 1 0 7.5 0a3.75 3.75 0 1 0 -7.5 0zM726.78 359.17a3.75 3.75 0 1 0 7.5 0a3.75 3.75 0 1 0 -7.5 0zM740.56 350.48a3.75 3.75 0 1 0 7.5 0a3.75 3.75 0 1 0 -7.5 0zM754.34 342.25a3.75 3.75 0 1 0 7.5 0a3.75 3.75 0 1 0 -7.5 0zM768.13 333.78a3.75 3.75 0 1 0 7.5 0a3.75 3.75 0 1 0 -7.5 0zM781.91 325.91a3.75 3.75 0 1 0 7.5 0a3.75 3.75 0 1 0 -7.5 0zM795.69 318a3.75 3.75 0 1 0 7.5 0a3.75 3.75 0 1 0 -7.5 0zM809.47 310.22a3.75 3.75 0 1 0 7.5 0a3.75 3.75 0 1 0 -7.5 0zM823.25 302.63a3.75 3.75 0 1 0 7.5 0a3.75 3.75 0 1 0 -7.5 0z" fill="#0000ff" stroke="none"/>
<path d="M482.45 519.3L496.23 514.73L510.01 510.61L523.8 507.68L537.58 505.58L551.36 503.52L565.14 501.46L578.93 499.31L592.71 497.07L606.49 494.87L620.27 492.54L634.05 490.48L647.84 488.19L661.62 485.9L675.4 483.62L689.18 480.96L702.96 478.26L716.75 475.38L730.53 472.41L744.31 469.07L758.09 465.5L771.88 461.2L785.66 456.76L799.44 451.82L813.22 445.78L827 438.78" fill="none" stroke="#0000ff" stroke-width="1" clip-path="url(#cd)"/>
<path d="M479.05 515.9h6.8v6.8h-6.8zM492.83 511.33h6.8v6.8h-6.8zM506.61 507.21h6.8v6.8h-6.8zM520.4 504.28h6.8v6.8h-6.8zM534.18 502.18h6.8v6.8h-6.8zM547.96 500.12h6.8v6.8h-6.8zM561.74 498.06h6.8v6.8h-6.8zM575.53 495.91h6.8v6.8h-6.8zM589.31 493.67h6.8v6.8h-6.8zM603.09 491.47h6.8v6.8h-6.8zM616.87 489.14h6.8v6.8h-6.8zM630.65 487.08h6.8v6.8h-6.8zM644.44 484.79h6.8v6.8h-6.8zM658.22 482.5h6.8v6.8h-6.8zM672 480.22h6.8v6.8h-6.8zM685.78 477.56h6.8v6.8h-6.8zM699.56 474.86h6.8v6.8h-6.8zM713.35 471.98h6.8v6.8h-6.8zM727.13 469.01h6.8v6.8h-6.8zM740.91 465.67h6.8v6.8h-6.8zM754.69 462.1h6.8v6.8h-6.8zM768.48 457.8h6.8v6.8h-6.8zM782.26 453.36h6.8v6.8h-6.8zM796.04 448.42h6.8v6.8h-6.8zM809.82 442.38h6.8v6.8h-6.8zM823.6 435.38h6.8v6.8h-6.8z" fill="#0000ff" stroke="none"/>
<path d="M482.45 519.3L496.23 515.96L510.01 513.58L523.8 512.44L537.58 511.98L551.36 511.75L565.14 511.52L578.93 511.39L592.71 511.29L606.49 511.16L620.27 511.07L634.05 510.88L647.84 510.7L661.62 510.56L675.4 510.47L689.18 510.38L702.96 510.29L716.75 510.2L730.53 510.15L744.31 510.06L758.09 509.97L771.88 509.92L785.66 509.83L799.44 509.78L813.22 509.74L827 509.69" fill="none" stroke="#0000ff" stroke-width="1" clip-path="url(#cd)"/>
<path d="M496.23 520.66L492.03 513.86h8.4zM510.01 518.29L505.81 511.48h8.4zM523.8 517.14L519.6 510.34h8.4zM537.58 516.68L533.38 509.88h8.4zM551.36 516.46L547.16 509.65h8.4zM565.14 516.23L560.94 509.42h8.4zM578.93 516.09L574.73 509.29h8.4zM592.71 516L588.51 509.19h8.4zM606.49 515.86L602.29 509.06h8.4zM620.27 515.77L616.07 508.97h8.4zM634.05 515.59L629.85 508.78h8.4zM647.84 515.4L643.64 508.6h8.4zM661.62 515.27L657.42 508.46h8.4zM675.4 515.17L671.2 508.37h8.4zM689.18 515.08L684.98 508.28h8.4zM702.96 514.99L698.76 508.19h8.4zM716.75 514.9L712.55 508.1h8.4zM730.53 514.85L726.33 508.05h8.4zM744.31 514.76L740.11 507.96h8.4zM758.09 514.67L753.89 507.87h8.4zM771.88 514.63L767.68 507.82h8.4zM785.66 514.53L781.46 507.73h8.4zM799.44 514.49L795.24 507.68h8.4zM813.22 514.44L809.02 507.64h8.4zM827 514.4L822.8 507.59h8.4z" fill="#0000ff" stroke="none"/>
<path d="M489.34 519.3L503.12 510.15L516.91 502.14L530.69 492.99L544.47 484.53L558.25 476.07L572.03 467.6L585.82 459.37L599.6 450.68L613.38 441.75L627.16 433.29L640.95 424.6L654.73 415.9L668.51 407.21L682.29 398.98L696.07 390.47L709.86 382.19L723.64 374.27L737.42 366.04L751.2 357.53L764.98 349.7L778.77 341.79L792.55 334.01L806.33 326.69L820.11 318.91L833.9 311.6" fill="none" stroke="#ff0000" stroke-width="1" clip-path="url(#cd)"/>
<path d="M485.79 519.3a3.55 3.55 0 1 0 7.1 0a3.55 3.55 0 1 0 -7.1 0zM499.57 510.15a3.55 3.55 0 1 0 7.1 0a3.55 3.55 0 1 0 -7.1 0zM513.36 502.14a3.55 3.55 0 1 0 7.1 0a3.55 3.55 0 1 0 -7.1 0zM527.14 492.99a3.55 3.55 0 1 0 7.1 0a3.55 3.55 0 1 0 -7.1 0zM540.92 484.53a3.55 3.55 0 1 0 7.1 0a3.55 3.55 0 1 0 -7.1 0zM554.7 476.07a3.55 3.55 0 1 0 7.1 0a3.55 3.55 0 1 0 -7.1 0zM568.48 467.6a3.55 3.55 0 1 0 7.1 0a3.55 3.55 0 1 0 -7.1 0zM582.27 459.37a3.55 3.55 0 1 0 7.1 0a3.55 3.55 0 1 0 -7.1 0zM596.05 450.68a3.55 3.55 0 1 0 7.1 0a3.55 3.55 0 1 0 -7.1 0zM609.83 441.75a3.55 3.55 0 1 0 7.1 0a3.55 3.55 0 1 0 -7.1 0zM623.61 433.29a3.55 3.55 0 1 0 7.1 0a3.55 3.55 0 1 0 -7.1 0zM637.4 424.6a3.55 3.55 0 1 0 7.1 0a3.55 3.55 0 1 0 -7.1 0zM651.18 415.9a3.55 3.55 0 1 0 7.1 0a3.55 3.55 0 1 0 -7.1 0zM664.96 407.21a3.55 3.55 0 1 0 7.1 0a3.55 3.55 0 1 0 -7.1 0zM678.74 398.98a3.55 3.55 0 1 0 7.1 0a3.55 3.55 0 1 0 -7.1 0zM692.52 390.47a3.55 3.55 0 1 0 7.1 0a3.55 3.55 0 1 0 -7.1 0zM706.31 382.19a3.55 3.55 0 1 0 7.1 0a3.55 3.55 0 1 0 -7.1 0zM720.09 374.27a3.55 3.55 0 1 0 7.1 0a3.55 3.55 0 1 0 -7.1 0zM733.87 366.04a3.55 3.55 0 1 0 7.1 0a3.55 3.55 0 1 0 -7.1 0zM747.65 357.53a3.55 3.55 0 1 0 7.1 0a3.55 3.55 0 1 0 -7.1 0zM761.43 349.7a3.55 3.55 0 1 0 7.1 0a3.55 3.55 0 1 0 -7.1 0zM775.22 341.79a3.55 3.55 0 1 0 7.1 0a3.55 3.55 0 1 0 -7.1 0zM789 334.01a3.55 3.55 0 1 0 7.1 0a3.55 3.55 0 1 0 -7.1 0zM802.78 326.69a3.55 3.55 0 1 0 7.1 0a3.55 3.55 0 1 0 -7.1 0zM816.56 318.91a3.55 3.55 0 1 0 7.1 0a3.55 3.55 0 1 0 -7.1 0z" fill="none" stroke="#ff0000" stroke-width="1"/>
<path d="M489.34 514.86L503.12 509.69L516.91 503.75L530.69 500.09L544.47 496.06L558.25 492.22L572.03 488.65L585.82 484.99L599.6 481.33L613.38 478.13L627.16 474.47L640.95 471.26L654.73 467.6L668.51 463.94L682.29 460.28L696.07 456.76L709.86 452.96L723.64 448.85L737.42 444.73L751.2 440.61L764.98 436.04L778.77 431.64L792.55 426.88L806.33 421.4L820.11 415.9L833.9 409.5" fill="none" stroke="#ff0000" stroke-width="1" clip-path="url(#cd)"/>
<path d="M485.84 511.36h7v7h-7zM499.62 506.19h7v7h-7zM513.41 500.25h7v7h-7zM527.19 496.59h7v7h-7zM540.97 492.56h7v7h-7zM554.75 488.72h7v7h-7zM568.53 485.15h7v7h-7zM582.32 481.49h7v7h-7zM596.1 477.83h7v7h-7zM609.88 474.63h7v7h-7zM623.66 470.97h7v7h-7zM637.45 467.76h7v7h-7zM651.23 464.1h7v7h-7zM665.01 460.44h7v7h-7zM678.79 456.78h7v7h-7zM692.57 453.26h7v7h-7zM706.36 449.46h7v7h-7zM720.14 445.35h7v7h-7zM733.92 441.23h7v7h-7zM747.7 437.11h7v7h-7zM761.48 432.54h7v7h-7zM775.27 428.14h7v7h-7zM789.05 423.38h7v7h-7zM802.83 417.9h7v7h-7zM816.61 412.4h7v7h-7z" fill="none" stroke="#ff0000" stroke-width="1"/>
<path d="M489.34 514.73L503.12 509.69L516.91 509.24L530.69 508.32L544.47 507.86L558.25 507.41L572.03 506.95L585.82 506.49L599.6 506.26L613.38 506.03L627.16 505.71L640.95 505.44L654.73 505.12L668.51 504.98L682.29 504.84L696.07 504.75L709.86 504.66L723.64 504.57L737.42 504.48L751.2 504.39L764.98 504.29L778.77 504.25L792.55 504.2L806.33 504.2L820.11 504.2L833.9 504.2" fill="none" stroke="#ff0000" stroke-width="1" clip-path="url(#cd)"/>
<path d="M489.34 519.54L485.04 512.58h8.6zM503.12 514.51L498.82 507.54h8.6zM516.91 514.05L512.61 507.09h8.6zM530.69 513.14L526.39 506.17h8.6zM544.47 512.68L540.17 505.71h8.6zM558.25 512.22L553.95 505.26h8.6zM572.03 511.76L567.73 504.8h8.6zM585.82 511.31L581.52 504.34h8.6zM599.6 511.08L595.3 504.11h8.6zM613.38 510.85L609.08 503.88h8.6zM627.16 510.53L622.86 503.56h8.6zM640.95 510.25L636.65 503.29h8.6zM654.73 509.93L650.43 502.97h8.6zM668.51 509.8L664.21 502.83h8.6zM682.29 509.66L677.99 502.69h8.6zM696.07 509.57L691.77 502.6h8.6zM709.86 509.48L705.56 502.51h8.6zM723.64 509.38L719.34 502.42h8.6zM737.42 509.29L733.12 502.33h8.6zM751.2 509.2L746.9 502.24h8.6zM764.98 509.11L760.68 502.14h8.6zM778.77 509.06L774.47 502.1h8.6zM792.55 509.02L788.25 502.05h8.6zM806.33 509.02L802.03 502.05h8.6zM820.11 509.02L815.81 502.05h8.6z" fill="none" stroke="#ff0000" stroke-width="1"/>
<rect x="72.25" y="7.5" width="339.2" height="250.25" fill="none" stroke="#000" stroke-width="1.1"/>
<rect x="72.2" y="280.55" width="339.25" height="250.4" fill="none" stroke="#000" stroke-width="1.1"/>
<rect x="482.45" y="10.35" width="348" height="246.85" fill="none" stroke="#000" stroke-width="1.1"/>
<rect x="482.45" y="281.4" width="348" height="247.05" fill="none" stroke="#000" stroke-width="1.1"/>
</svg>
</body></html>
